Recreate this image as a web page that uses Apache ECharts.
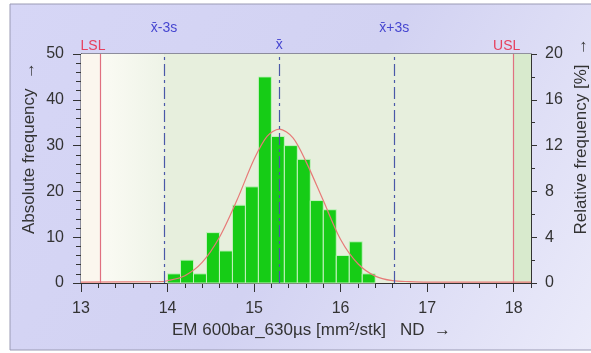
<!DOCTYPE html>
<html>
<head>
<meta charset="utf-8">
<script src="https://cdn.jsdelivr.net/npm/echarts@6/dist/echarts.min.js"></script>
<style>
  html, body { margin: 0; padding: 0; background: #fff; }
  #chart { width: 591px; height: 353px; }
</style>
</head>
<body>
<div id="chart"></div>
<script>
// class edges of the histogram and absolute frequencies
const binEdges = [14.0, 14.15, 14.3, 14.45, 14.6, 14.75, 14.9, 15.05, 15.2, 15.35, 15.5, 15.65, 15.8, 15.95, 16.1, 16.25, 16.4];
const counts = [2, 5, 2, 11, 7, 17, 21, 45, 32, 30, 27, 18, 16, 6, 9, 2];

// limits and statistics lines
const LSL = 13.22;
const USL = 18.0;
const mean = 15.29;
const minus3s = 13.96;
const plus3s = 16.62;

// normal curve
const curveX = [13.0, 13.9, 14.0, 14.2, 14.4, 14.6, 14.8, 15.0, 15.15, 15.29, 15.45, 15.6, 15.8, 16.0, 16.2, 16.4, 16.6, 16.8, 17.0, 18.2];
const curveY = [0.2, 0.3, 0.5, 1.6, 4.5, 10, 18, 27, 32, 33.6, 31.7, 26.5, 18, 9.5, 4.2, 1.5, 0.5, 0.3, 0.2, 0.2];

const xTicks = [13, 14, 15, 16, 17, 18];

const FONT = 'Liberation Sans, Arial, sans-serif';

const bars = counts.map((c, i) => [binEdges[i], binEdges[i + 1], c]);
const curve = curveX.map((x, i) => [x, curveY[i]]);

const chart = echarts.init(document.getElementById('chart'));

const statLine = (x, text, dist) => ({
  xAxis: x,
  lineStyle: { color: '#4a58a8', type: [12, 4, 3, 4], width: 1.2 },
  label: { show: true, position: 'end', formatter: text, distance: dist,
           color: '#4646d0', fontSize: 14, fontFamily: FONT }
});
const limitLine = (x, text) => ({
  xAxis: x,
  lineStyle: { color: '#e07080', type: 'solid', width: 1.2 },
  label: { show: true, position: 'end', formatter: text, distance: 1, offset: [-7, 0],
           color: '#e6405e', fontSize: 14, fontFamily: FONT }
});

chart.setOption({
  animation: false,
  graphic: [
    {
      type: 'rect', z: -10, silent: true,
      shape: { x: 10, y: 4, width: 600, height: 346 },
      style: {
        fill: new echarts.graphic.LinearGradient(0, 0, 1, 1, [
          { offset: 0, color: '#d6d6f6' },
          { offset: 0.5, color: '#d2d2f2' },
          { offset: 1, color: '#ececfa' }
        ]),
        stroke: '#9a9ab4', lineWidth: 1
      }
    },
    {
      type: 'text', left: 21, top: 62, rotation: Math.PI / 2, silent: true,
      style: { text: 'Absolute frequency  →', fontSize: 17, fontFamily: FONT, fill: '#333' }
    },
    {
      type: 'text', left: 573, top: 38, rotation: Math.PI / 2, silent: true,
      style: { text: 'Relative frequency [%]  →', fontSize: 17, fontFamily: FONT, fill: '#333' }
    },
    {
      type: 'text', left: 172, top: 322, silent: true,
      style: { text: 'EM 600bar_630µs [mm²/stk]   ND  →', fontSize: 17, fontFamily: FONT, fill: '#333' }
    }
  ],
  grid: {
    left: 81, right: 60, top: 54, bottom: 70,
    show: true, borderColor: '#444', borderWidth: 1, backgroundColor: 'transparent'
  },
  xAxis: [
    {
      type: 'value', min: 13, max: 18.2, position: 'bottom',
      axisLine: { onZero: false, lineStyle: { color: '#333' } },
      axisTick: { customValues: xTicks, length: 9, lineStyle: { color: '#333' } },
      axisLabel: { customValues: xTicks, margin: 18, fontSize: 16, fontFamily: FONT, color: '#333' },
      splitLine: { show: false }
    },
    {
      type: 'value', min: 13, max: 18.2, interval: 0.2, position: 'bottom',
      axisLine: { show: false },
      axisTick: { length: 5, lineStyle: { color: '#333' } },
      axisLabel: { show: false },
      splitLine: { show: false }
    }
  ],
  yAxis: [
    {
      type: 'value', min: 0, max: 50, interval: 10, position: 'left',
      axisLine: { show: true, lineStyle: { color: '#333' } },
      axisTick: { show: true, length: 8, lineStyle: { color: '#333' } },
      minorTick: { show: true, splitNumber: 5, length: 5, lineStyle: { color: '#333' } },
      axisLabel: { margin: 17, fontSize: 16, fontFamily: FONT, color: '#333' },
      splitLine: { show: false }
    },
    {
      type: 'value', min: 0, max: 20, interval: 4, position: 'right',
      axisLine: { show: true, lineStyle: { color: '#333' } },
      axisTick: { show: true, length: 6, lineStyle: { color: '#333' } },
      minorTick: { show: true, splitNumber: 2, length: 4, lineStyle: { color: '#333' } },
      axisLabel: { margin: 14, fontSize: 16, fontFamily: FONT, color: '#333' },
      splitLine: { show: false }
    }
  ],
  series: [
    {
      // background zones of the plot area
      type: 'line', data: [], z: 1, silent: true,
      markArea: {
        silent: true,
        data: [
          [{ xAxis: 13, itemStyle: { color: '#fbf6ee' } }, { xAxis: LSL }],
          [{ xAxis: LSL, itemStyle: { color: new echarts.graphic.LinearGradient(0, 0, 1, 0, [
              { offset: 0, color: '#fbfbf4' }, { offset: 1, color: '#eef3e7' }]) } }, { xAxis: minus3s }],
          [{ xAxis: minus3s, itemStyle: { color: '#e7efdd' } }, { xAxis: USL }],
          [{ xAxis: USL, itemStyle: { color: '#d8eacd' } }, { xAxis: 18.2 }]
        ]
      }
    },
    {
      type: 'custom', z: 2, data: bars,
      encode: { x: [0, 1], y: 2 },
      renderItem: (params, api) => {
        const top = api.coord([api.value(0), api.value(2)]);
        const base = api.coord([api.value(1), 0]);
        return {
          type: 'rect',
          shape: { x: top[0], y: top[1], width: base[0] - top[0], height: base[1] - top[1] },
          style: { fill: '#16cc16', stroke: '#c6f2c0', lineWidth: 1 }
        };
      }
    },
    {
      type: 'line', z: 3, data: curve, smooth: 0.3, symbol: 'none',
      lineStyle: { color: '#e77a78', width: 1.2 },
      markLine: {
        silent: true, symbol: 'none',
        data: [
          limitLine(LSL, 'LSL'),
          limitLine(USL, 'USL'),
          statLine(minus3s, 'x̄-3s', 19),
          statLine(mean, 'x̄', 2),
          statLine(plus3s, 'x̄+3s', 19)
        ]
      }
    }
  ]
});
</script>
</body>
</html>
